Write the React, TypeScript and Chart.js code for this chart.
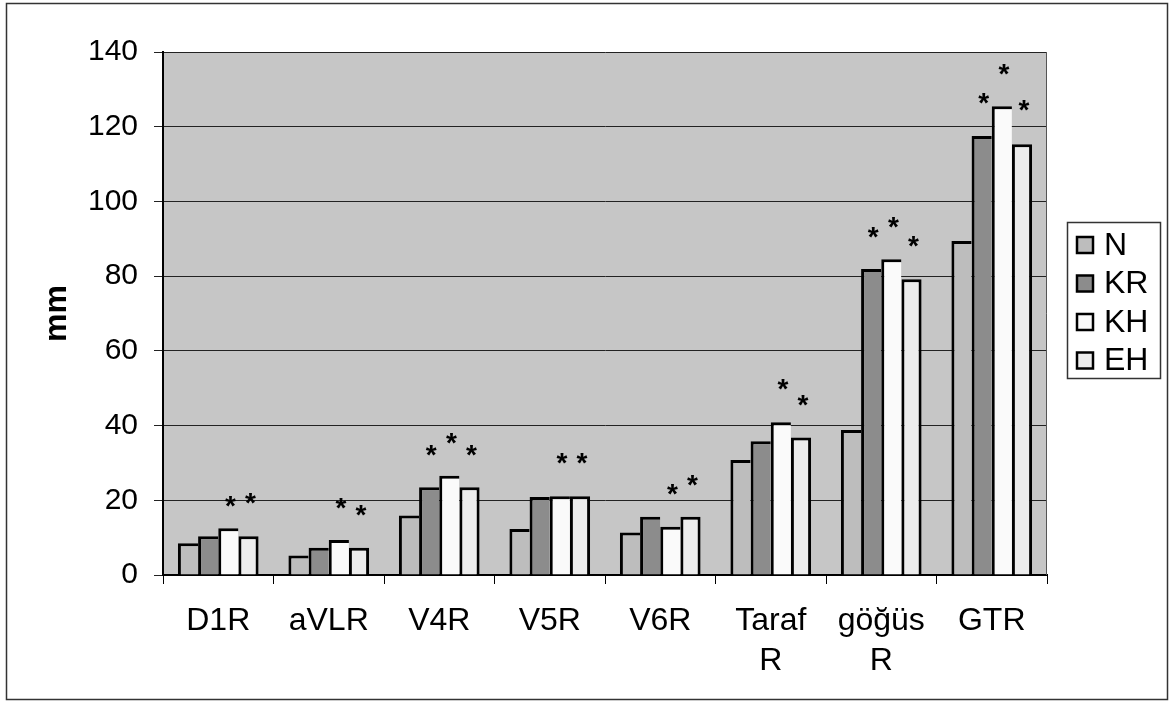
import React, { useEffect, useRef } from "react";
import { Chart, registerables } from "chart.js";

Chart.register(...registerables);

const categories: (string | string[])[] = ["D1R", "aVLR", "V4R", "V5R", "V6R", ["Taraf", "R"], ["göğüs", "R"], "GTR"];
const seriesNames = ["N", "KR", "KH", "EH"];
const valuesN = [8.5, 5.2, 15.9, 12.3, 11.4, 30.8, 38.8, 89.4];
const valuesKR = [10.4, 7.3, 23.5, 20.9, 15.6, 35.8, 81.9, 117.5];
const valuesKH = [12.5, 9.4, 26.6, 21.1, 12.9, 40.9, 84.5, 125.5];
const valuesEH = [10.4, 7.3, 23.5, 21.1, 15.6, 36.8, 79.2, 115.3];
// positions (in mm) of the significance asterisks above each bar
const starsN: (number | null)[] = [null, null, null, null, null, null, null, null];
const starsKR: (number | null)[] = [null, null, 34, null, null, null, 92.3, 128.2];
const starsKH: (number | null)[] = [20.3, 19.9, 37.2, 31.9, 23.6, 51.6, 95, 136];
const starsEH: (number | null)[] = [21.1, 17.9, 34, 31.9, 26, 47.3, 89.9, 126.3];
const yMin = 0;
const yMax = 140;
const yStep = 20;
const yTitle = "mm";

const seriesValues = [valuesN, valuesKR, valuesKH, valuesEH];
const seriesStars = [starsN, starsKR, starsKH, starsEH];
const seriesColors = ["#bdbdbd", "#8c8c8c", "#fafafa", "#ececec"];
const FONT = "'Liberation Sans', Arial, sans-serif";

export default function App() {
  const ref = useRef<HTMLCanvasElement | null>(null);

  useEffect(() => {
    const canvas = ref.current;
    if (!canvas) return;

    const bgPlugin = {
      id: "plotBg",
      beforeDraw(chart: any) {
        const { ctx, chartArea } = chart;
        ctx.save();
        ctx.fillStyle = "#ffffff";
        ctx.fillRect(0, 0, chart.width, chart.height);
        ctx.fillStyle = "#c6c6c6";
        ctx.fillRect(chartArea.left, chartArea.top, chartArea.right - chartArea.left, chartArea.bottom - chartArea.top);
        ctx.restore();
      },
      afterDatasetsDraw(chart: any) {
        const { ctx, chartArea } = chart;
        const yScale = chart.scales.y;
        ctx.save();
        ctx.strokeStyle = "#555";
        ctx.lineWidth = 1;
        ctx.beginPath();
        ctx.moveTo(chartArea.right - 0.5, chartArea.top);
        ctx.lineTo(chartArea.right - 0.5, chartArea.bottom);
        ctx.stroke();
        ctx.fillStyle = "#000";
        ctx.font = `bold 28px ${FONT}`;
        ctx.textAlign = "center";
        ctx.textBaseline = "alphabetic";
        seriesStars.forEach((stars, i) => {
          const meta = chart.getDatasetMeta(i);
          stars.forEach((v, j) => {
            if (v === null || v === undefined) return;
            const bar = meta.data[j];
            const x = bar.x + 2;
            const y = yScale.getPixelForValue(v);
            ctx.fillText("*", x, y + 16);
          });
        });
        ctx.restore();
      },
      afterDraw(chart: any) {
        const { ctx } = chart;
        ctx.save();
        ctx.strokeStyle = "#333";
        ctx.lineWidth = 1.5;
        ctx.strokeRect(6.5, 3.5, 1161, 696);
        const lx = 1067, ly = 222, lw = 93, lh = 156;
        ctx.fillStyle = "#ffffff";
        ctx.fillRect(lx, ly, lw, lh);
        ctx.strokeStyle = "#333";
        ctx.lineWidth = 1.5;
        ctx.strokeRect(lx + 0.5, ly + 0.5, lw, lh);
        ctx.font = `32px ${FONT}`;
        ctx.textAlign = "left";
        ctx.textBaseline = "middle";
        seriesNames.forEach((name, k) => {
          const cy = 245 + k * 38.5;
          ctx.fillStyle = seriesColors[k];
          ctx.fillRect(1077, cy - 8, 16, 16);
          ctx.strokeStyle = "#000";
          ctx.lineWidth = 2.5;
          ctx.strokeRect(1077, cy - 8, 16, 16);
          ctx.fillStyle = "#000";
          ctx.fillText(name, 1104, cy + 1);
        });
        ctx.restore();
      },
    };

    const datasets = seriesNames.map((name, i) => ({
      label: name,
      data: seriesValues[i],
      backgroundColor: seriesColors[i],
      borderColor: "#000",
      borderWidth: i === seriesNames.length - 1
        ? { top: 3, left: 3, right: 3, bottom: 0 }
        : { top: 3, left: 3, right: 0, bottom: 0 },
      borderSkipped: false,
      categoryPercentage: 0.73,
      barPercentage: 1.0,
    }));

    const chart = new Chart(canvas, {
      type: "bar",
      data: { labels: categories as any, datasets: datasets as any },
      plugins: [bgPlugin],
      options: {
        responsive: false,
        animation: false,
        devicePixelRatio: 1,
        layout: { padding: { top: 52, right: 126, bottom: 0, left: 0 } },
        plugins: {
          legend: { display: false },
          tooltip: { enabled: false },
        },
        scales: {
          x: {
            offset: true,
            grid: {
              display: true,
              drawOnChartArea: false,
              drawTicks: true,
              tickLength: 9,
              color: "#000",
              lineWidth: 1,
              offset: true,
            },
            border: { display: true, color: "#000", width: 2 },
            ticks: {
              color: "#000",
              font: { family: FONT, size: 32, lineHeight: 1.25 },
              padding: 17,
              autoSkip: false,
              maxRotation: 0,
              minRotation: 0,
            },
            afterFit: (s: any) => { s.height = 132; },
          },
          y: {
            min: yMin,
            max: yMax,
            grid: {
              color: "#222",
              lineWidth: 1,
              tickLength: 9,
              drawTicks: true,
            },
            border: { display: true, color: "#000", width: 2 },
            ticks: {
              stepSize: yStep,
              color: "#000",
              font: { family: FONT, size: 30 },
              padding: 16,
            },
            title: {
              display: true,
              text: yTitle,
              color: "#000",
              font: { family: FONT, size: 32, weight: "bold" },
              padding: { top: 38, bottom: 0 },
            },
            afterFit: (s: any) => { s.width = 163; },
          },
        },
      } as any,
    });

    return () => chart.destroy();
  }, []);

  return (
    <div style={{ position: "absolute", left: 0, top: 0, width: 1173, height: 707, background: "#fff" }}>
      <canvas ref={ref} width={1173} height={707} style={{ display: "block" }} />
    </div>
  );
}
